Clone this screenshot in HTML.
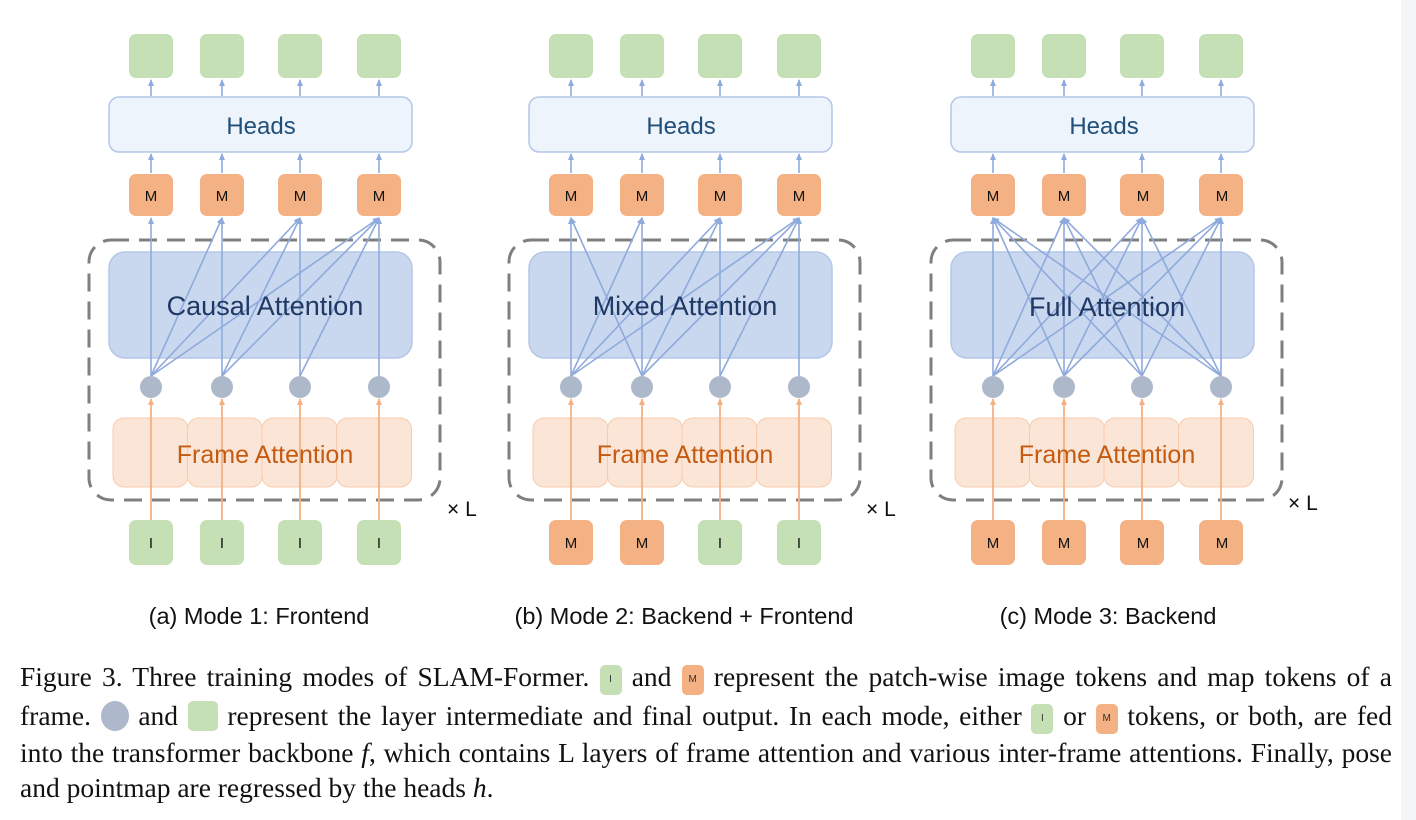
<!DOCTYPE html>
<html><head><meta charset="utf-8"><style>
body{margin:0;width:1416px;height:820px;background:#fff;position:relative;overflow:hidden;font-family:"Liberation Sans",sans-serif}
#strip{position:absolute;left:1401px;top:0;width:15px;height:820px;background:#f4f5f7}
svg{position:absolute;left:0;top:0}
.cap{position:absolute;left:20px;width:1372px;font-family:"Liberation Serif",serif;font-size:27.5px;color:#111;white-space:nowrap;line-height:32px}
.j{text-align:justify;text-align-last:justify}
.ic{display:inline-block;width:22px;height:30px;border-radius:5px;vertical-align:4px;font-family:"Liberation Sans",sans-serif;font-size:10px;text-align:center;text-align-last:center;line-height:30px;color:#333}
.e{vertical-align:-6px}
.g{background:#c5e0b4}.o{background:#f4b183}.c{background:#adb9ca;border-radius:50%;width:28px;height:30px}
</style></head><body>
<div id="strip"></div>
<svg width="1416" height="820" xmlns="http://www.w3.org/2000/svg">
<defs>
<marker id="ab" markerWidth="8" markerHeight="8" refX="6" refY="3" orient="auto" markerUnits="userSpaceOnUse"><path d="M0,0 L7,3 L0,6 z" fill="#8faadc"/></marker>
<marker id="ao" markerWidth="8" markerHeight="8" refX="6" refY="3" orient="auto" markerUnits="userSpaceOnUse"><path d="M0,0 L7,3 L0,6 z" fill="#f4b183"/></marker>
</defs>
<g id="g"></g>
<g font-family="Liberation Sans, DejaVu Sans, sans-serif" text-anchor="middle">
<text x="261" y="134" font-size="24" fill="#1f4e79">Heads</text>
<text x="681" y="134" font-size="24" fill="#1f4e79">Heads</text>
<text x="1104" y="134" font-size="24" fill="#1f4e79">Heads</text>
<text x="265" y="315" font-size="27" fill="#203864">Causal Attention</text>
<text x="685" y="315" font-size="27" fill="#203864">Mixed Attention</text>
<text x="1107" y="316" font-size="27" fill="#203864">Full Attention</text>
<text x="265" y="463" font-size="25" fill="#c55a11">Frame Attention</text>
<text x="685" y="463" font-size="25" fill="#c55a11">Frame Attention</text>
<text x="1107" y="463" font-size="25" fill="#c55a11">Frame Attention</text>
<g font-size="15" fill="#111">
<text x="151" y="201">M</text><text x="222" y="201">M</text><text x="300" y="201">M</text><text x="379" y="201">M</text>
<text x="571" y="201">M</text><text x="642" y="201">M</text><text x="720" y="201">M</text><text x="799" y="201">M</text>
<text x="993" y="201">M</text><text x="1064" y="201">M</text><text x="1143" y="201">M</text><text x="1222" y="201">M</text>
<text x="151" y="548">I</text><text x="222" y="548">I</text><text x="300" y="548">I</text><text x="379" y="548">I</text>
<text x="571" y="548">M</text><text x="642" y="548">M</text><text x="720" y="548">I</text><text x="799" y="548">I</text>
<text x="993" y="548">M</text><text x="1064" y="548">M</text><text x="1143" y="548">M</text><text x="1222" y="548">M</text>
</g>
<g font-size="21" fill="#111" text-anchor="start">
<text x="447" y="516">× L</text><text x="866" y="516">× L</text><text x="1288" y="510">× L</text>
</g>
<g font-size="23.5" fill="#111">
<text x="259" y="624">(a) Mode 1: Frontend</text>
<text x="684" y="624">(b) Mode 2: Backend + Frontend</text>
<text x="1108" y="624">(c) Mode 3: Backend</text>
</g>
</g>
</svg>
<div class="cap j" style="top:661px">Figure 3. Three training modes of SLAM-Former. <span class="ic g">I</span> and <span class="ic o">M</span> represent the patch-wise image tokens and map tokens of a</div>
<div class="cap j" style="top:700px">frame. <span class="ic c e"></span> and <span class="ic g e" style="width:30px"></span> represent the layer intermediate and final output. In each mode, either <span class="ic g">I</span> or <span class="ic o">M</span> tokens, or both, are fed</div>
<div class="cap j" style="top:737px">into the transformer backbone <i>f</i>, which contains L layers of frame attention and various inter-frame attentions. Finally, pose</div>
<div class="cap" style="top:772px">and pointmap are regressed by the heads <i>h</i>.</div>
<script>
const g=document.getElementById('g');const NS='http://www.w3.org/2000/svg';
function el(t,a){const e=document.createElementNS(NS,t);for(const k in a)e.setAttribute(k,a[k]);g.appendChild(e);return e;}
const panels=[
 {off:0,conn:[[0],[0,1],[0,1,2],[0,1,2,3]],inp:['g','g','g','g']},
 {off:420,conn:[[0,1],[0,1],[0,1,2],[0,1,2,3]],inp:['o','o','g','g']},
 {off:842,conn:[[0,1,2,3],[0,1,2,3],[0,1,2,3],[0,1,2,3]],inp:['o','o','o','o']}];
const base=[151,222,300,379];
panels.forEach((p,pi)=>{
 const xs=base.map(x=>x+p.off);const L=89+p.off;
 el('rect',{x:L,y:240,width:351,height:260,rx:22,fill:'none',stroke:'#7f7f7f','stroke-width':3,'stroke-dasharray':'18,10'});
 el('rect',{x:109+p.off,y:252,width:303,height:106,rx:16,fill:'#c9d8ef',stroke:'#b4c7e7','stroke-width':1.5});
 el('rect',{x:109+p.off,y:97,width:303,height:55,rx:10,fill:'#eef4fc',stroke:'#b4c7e7','stroke-width':1.5});
 for(let i=0;i<4;i++) el('rect',{x:113+p.off+i*74.5,y:418,width:75,height:69,rx:11,fill:'#fbe5d6',stroke:'#f8cbad','stroke-width':1});
 xs.forEach((x,i)=>{
  el('rect',{x:x-22,y:34,width:44,height:44,rx:7,fill:'#c5e0b4'});
  el('rect',{x:x-22,y:174,width:44,height:42,rx:7,fill:'#f4b183'});
  el('rect',{x:x-22,y:520,width:44,height:45,rx:7,fill:p.inp[i]=='g'?'#c5e0b4':'#f4b183'});
  el('line',{x1:x,y1:96,x2:x,y2:80,stroke:'#8faadc','stroke-width':1.6,'marker-end':'url(#ab)'});
  el('line',{x1:x,y1:173,x2:x,y2:154,stroke:'#8faadc','stroke-width':1.6,'marker-end':'url(#ab)'});
  el('line',{x1:x,y1:520,x2:x,y2:399,stroke:'#f4b183','stroke-width':1.8,'marker-end':'url(#ao)'});
 });
 xs.forEach((x,i)=>{p.conn[i].forEach(j=>{
  el('line',{x1:xs[j],y1:376,x2:x,y2:218,stroke:'#8faadc','stroke-width':1.6,'marker-end':'url(#ab)'});});});
 xs.forEach(x=>el('ellipse',{cx:x,cy:387,rx:11,ry:11,fill:'#adb9ca'}));
});
</script>
</body></html>
